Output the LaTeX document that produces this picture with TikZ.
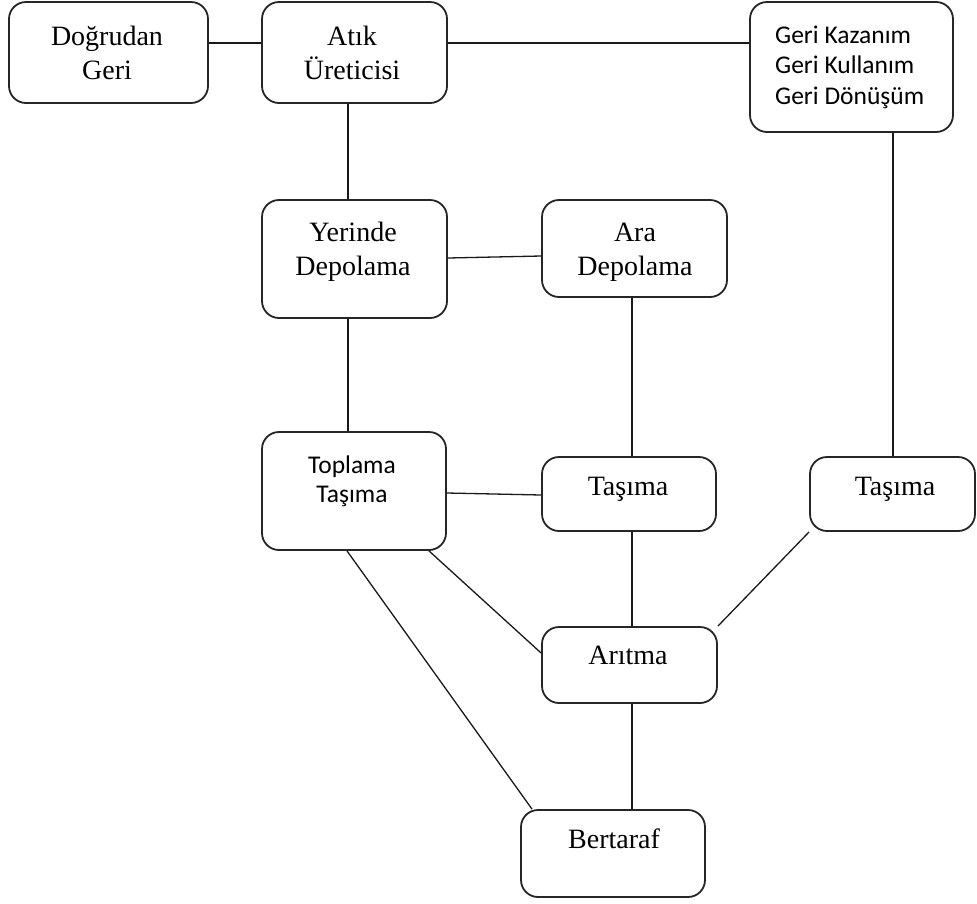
\documentclass[tikz,border=0pt]{standalone}
\usepackage{fontspec}
\setmainfont{Liberation Serif}
\newfontfamily\calfont{Carlito}
\newcommand\tlinesc[1]{\begin{tabular}[t]{@{}c@{}}#1\end{tabular}}
\newcommand\tlinesl[1]{\begin{tabular}[t]{@{}l@{}}#1\end{tabular}}
\begin{document}
\begin{tikzpicture}[x=1pt,y=-1pt,
  box/.style={draw=black!85,line width=1.8pt,rounded corners=17pt,inner sep=0pt,fill=white},
  serif/.style={inner sep=0pt,anchor=base,font=\fontsize{28}{34}\selectfont},
  sans/.style={inner sep=0pt,anchor=base,font=\calfont\fontsize{25.5}{30.5}\selectfont},
  conn/.style={draw=black!90,line width=1.3pt}]
\useasboundingbox (0,0) rectangle (977,903);
% boxes
\node[box,minimum width=199pt,minimum height=101pt] (dg) at (108.5,52.5) {};
\node[box,minimum width=185pt,minimum height=101pt] (au) at (354.5,52.5) {};
\node[box,minimum width=203pt,minimum height=130pt] (gk) at (851.5,67) {};
\node[box,minimum width=185pt,minimum height=118pt] (yd) at (354.5,259) {};
\node[box,minimum width=185pt,minimum height=97pt] (ad) at (634.5,248.5) {};
\node[box,minimum width=184pt,minimum height=118pt] (tt) at (354,491) {};
\node[box,minimum width=174pt,minimum height=74pt] (tm) at (629,494) {};
\node[box,minimum width=165pt,minimum height=74pt] (tr) at (892.5,494) {};
\node[box,minimum width=175pt,minimum height=76pt] (ar) at (629.5,665) {};
\node[box,minimum width=184pt,minimum height=87pt] (bt) at (613,853.5) {};
% texts
\node[serif] (tdg) at (107,45) {\tlinesc{Doğrudan\\Geri}};
\node[serif] (tau) at (352,45) {\tlinesc{Atık\\Üreticisi}};
\node[sans,anchor=base west] (tgk) at (775,43) {\tlinesl{Geri Kazanım\\Geri Kullanım\\Geri Dönüşüm}};
\node[serif] (tyd) at (353,241) {\tlinesc{Yerinde\\Depolama}};
\node[serif] (tad) at (635,241) {\tlinesc{Ara\\Depolama}};
\node[sans,font=\calfont\fontsize{25.5}{29}\selectfont] (ttt) at (352,473) {\tlinesc{Toplama\\Taşıma}};
\node[serif] (ttm) at (628,495) {Taşıma};
\node[serif] (ttr) at (895,495) {Taşıma};
\node[serif] (tar) at (628,664) {Arıtma};
\node[serif] (tbt) at (614,848) {Bertaraf};
% connectors
\path[conn] ([yshift=9.5pt]dg.east) -- ([yshift=9.5pt]au.west);
\path[conn] ([yshift=9.5pt]au.east) -- ([yshift=24pt]gk.west);
\path[conn] ([xshift=-6.5pt]au.south) -- ([xshift=-6.5pt]yd.north);
\path[conn] ([yshift=1pt]yd.east) -- ([yshift=-7.5pt]ad.west);
\path[conn] ([xshift=-6.5pt]yd.south) -- ([xshift=-6pt]tt.north);
\path[conn] ([xshift=-2.5pt]ad.south) -- ([xshift=3pt]tm.north);
\path[conn] ([xshift=41.5pt]gk.south) -- ([xshift=0.5pt]tr.north);
\path[conn] ([yshift=-2pt]tt.east) -- ([yshift=-1pt]tm.west);
\path[conn] ([xshift=3pt]tm.south) -- ([xshift=2.5pt]ar.north);
\path[conn] (tr.south west) -- (ar.north east);
\path[conn] ([xshift=75pt]tt.south) -- ([yshift=12pt]ar.west);
\path[conn] ([xshift=-7pt]tt.south) -- ([xshift=-81pt]bt.north);
\path[conn] ([xshift=2.5pt]ar.south) -- ([xshift=19pt]bt.north);
\end{tikzpicture}
\end{document}
